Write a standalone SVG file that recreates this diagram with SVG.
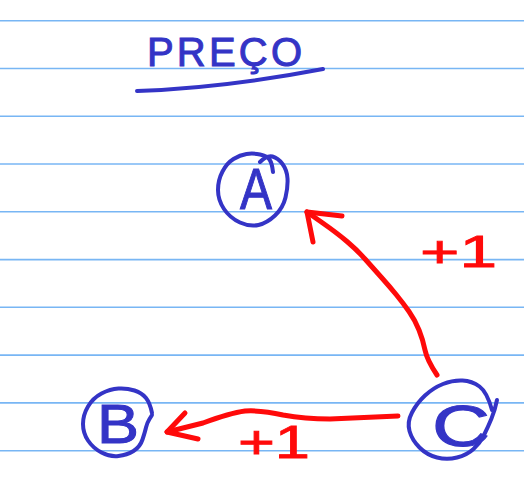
<svg xmlns="http://www.w3.org/2000/svg" width="524" height="487" viewBox="0 0 524 487">
  <defs>
    <style>
      .rule { stroke: #78b6f4; stroke-width: 1.6; }
      .ink { fill: none; stroke: #3434c6; stroke-width: 4; stroke-linecap: round; stroke-linejoin: round; }
      .red { fill: none; stroke: #ff0a0a; stroke-width: 5; stroke-linecap: round; stroke-linejoin: round; }
      .btxt { fill: #3434c6; stroke: #3434c6; stroke-width: 1; font-family: "Liberation Sans", Arial, sans-serif; }
      .rtxt { fill: #ff0a0a; stroke: #ff0a0a; stroke-width: 0.8; font-family: "Liberation Sans", Arial, sans-serif; }
    </style>
  </defs>
  <rect width="524" height="487" fill="#ffffff"/>
  <g id="paper-lines">
    <line class="rule" x1="0" y1="20.7" x2="524" y2="20.7"/>
    <line class="rule" x1="0" y1="68.5" x2="524" y2="68.5"/>
    <line class="rule" x1="0" y1="116.3" x2="524" y2="116.3"/>
    <line class="rule" x1="0" y1="164" x2="524" y2="164"/>
    <line class="rule" x1="0" y1="211.8" x2="524" y2="211.8"/>
    <line class="rule" x1="0" y1="259.6" x2="524" y2="259.6"/>
    <line class="rule" x1="0" y1="307.3" x2="524" y2="307.3"/>
    <line class="rule" x1="0" y1="355.1" x2="524" y2="355.1"/>
    <line class="rule" x1="0" y1="402.9" x2="524" y2="402.9"/>
    <line class="rule" x1="0" y1="450.7" x2="524" y2="450.7"/>
  </g>
  <g id="title">
    <text class="btxt" x="147" y="66" font-size="40" textLength="155" lengthAdjust="spacing">PREÇO</text>
    <path class="ink" d="M137,91 C200,89 255,82 323,69"/>
  </g>
  <g id="connectors">
    <g id="edge-C-A">
      <path class="red" d="M437,375 Q427,360 425,350 Q423,340 419,330 Q415,320 409,311.5 Q403,303 396.5,295 Q390,287 381.5,277.5 Q373,268 365,259 Q357,250 347,241.5 Q337,233 322,222.5 L307,212"/>
      <path class="red" d="M313,242 L307,212 L342,216"/>
      <text class="rtxt" x="420" y="267" font-size="45" textLength="77" lengthAdjust="spacingAndGlyphs">+1</text>
    </g>
    <g id="edge-C-B">
      <path class="red" d="M398,416 L330,419 Q305,419 283,415 Q262,410 245,411 Q230,413 203,423 L167,432"/>
      <path class="red" d="M185,413 L167,432 L198,439"/>
      <text class="rtxt" x="238" y="458" font-size="46" textLength="72" lengthAdjust="spacingAndGlyphs">+1</text>
    </g>
  </g>
  <g id="node-A">
    <path class="ink" d="M260,162 Q267,155 272.5,156.5 Q278,158 282.5,164 Q287,170 287.5,178.5 Q288,187 285.5,197.5 Q283,208 275,215.5 Q267,223 258.5,225 Q250,227 240,222.5 Q230,218 224,209 Q218,200 218,190 Q218,180 222.5,171.5 Q227,163 233.5,159 Q240,155 246.5,154 Q253,153 260,154.5 Q267,156 269.5,159.5 Q272,163 273,172"/>
    <text class="btxt" x="240" y="209" font-size="58" textLength="32" lengthAdjust="spacingAndGlyphs">A</text>
  </g>
  <g id="node-B">
    <path class="ink" d="M152,413 Q150,403 146,398 Q142,393 134.5,390.5 Q127,388 118.5,388.5 Q110,389 101.5,393.5 Q93,398 88,406.5 Q83,415 83,424 Q83,433 88,440.5 Q93,448 101.5,452.5 Q110,457 118.5,456 Q127,455 133.5,451 Q140,447 142.5,439.5 Q145,432 146,427.5 Q147,423 149.5,419 L152,415"/>
    <text class="btxt" x="97" y="443" font-size="56" textLength="42" lengthAdjust="spacingAndGlyphs">B</text>
  </g>
  <g id="node-C">
    <path class="ink" d="M492,410 Q487,392 479.5,386.5 Q472,381 462.5,380.5 Q453,380 443,384 Q433,388 425,395.5 Q417,403 412,412.5 Q407,422 409.5,431 Q412,440 419.5,447.5 Q427,455 437,457.5 Q447,460 457,457.5 Q467,455 473.5,449 Q480,443 484,435 Q488,427 491.5,418.5 Q495,410 497,400"/>
    <text class="btxt" x="432" y="446" font-size="58" textLength="58" lengthAdjust="spacingAndGlyphs">C</text>
  </g>
</svg>
